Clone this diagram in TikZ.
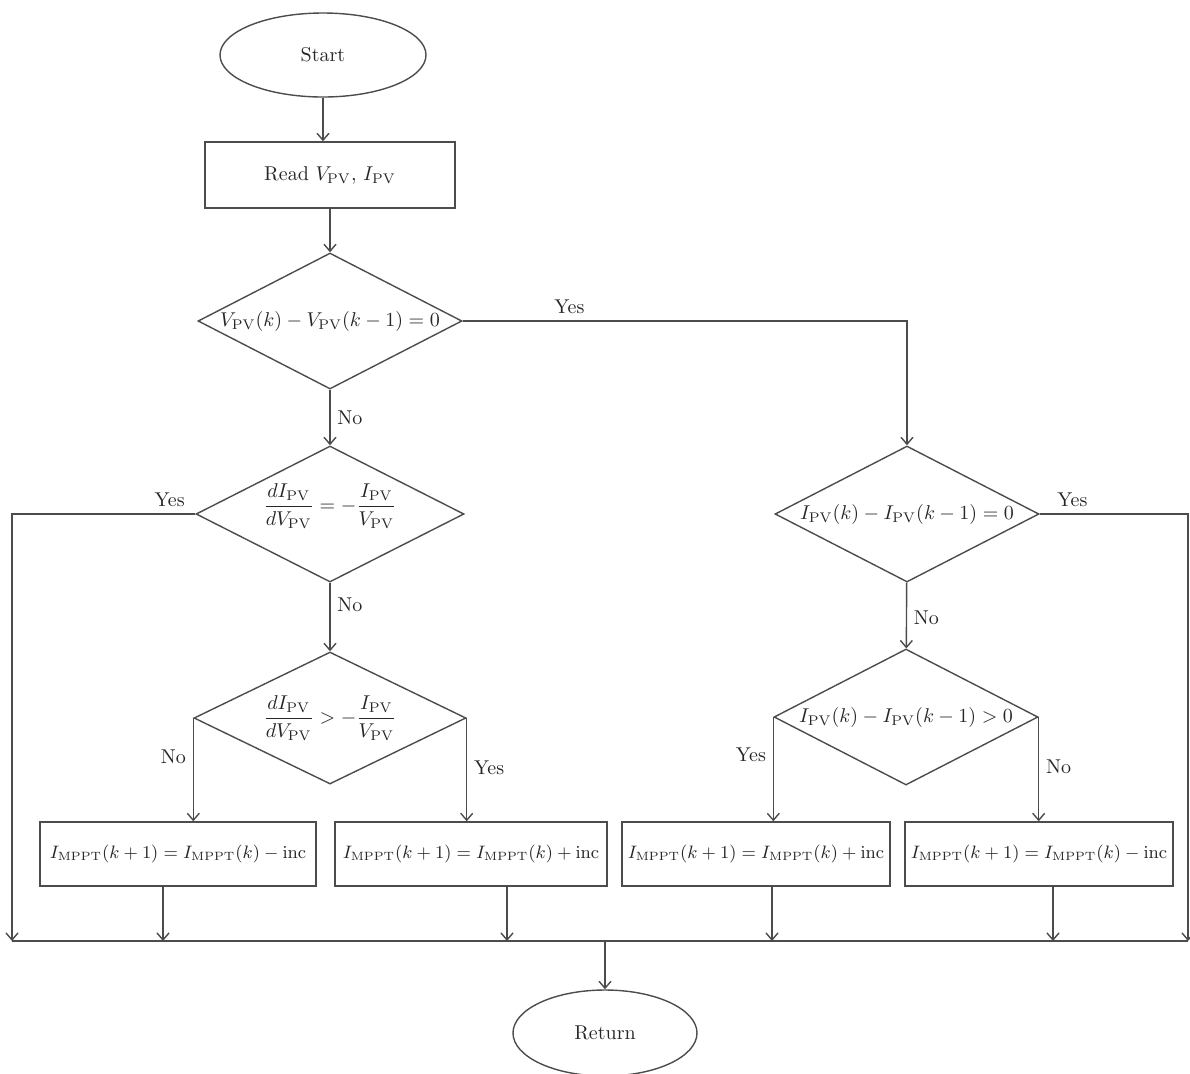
\documentclass[tikz,border=0pt]{standalone}
\usepackage{amsmath}
\usepackage{tikz}
\usetikzlibrary{shapes.geometric, positioning, arrows.meta}

\colorlet{linegray}{black!70}
\tikzset{
    terminal/.style={ellipse, draw=linegray, line width=0.7pt, minimum width=103pt, minimum height=42pt, inner sep=0pt},
    process/.style={rectangle, draw=linegray, line width=0.7pt, minimum width=130pt, minimum height=32pt, inner sep=2pt},
    update/.style={process, font=\fontsize{9.1pt}{11pt}\selectfont},
    decision/.style={diamond, draw=linegray, line width=0.7pt, minimum width=132pt, minimum height=68pt, inner sep=0pt},
    flow/.style={draw=linegray, line width=0.7pt, -{Straight Barb[length=3.5pt, width=6pt]}},
    line/.style={draw=linegray, line width=0.7pt},
}

\begin{document}
\begin{tikzpicture}[x=0.5pt, y=-0.5pt, text=black!85]
    \useasboundingbox (0,0) rectangle (1190,1073);

    % main column
    \node[terminal] (start) at (323,55) {Start};
    \node[process, minimum width=125pt, minimum height=33pt] (read) at (330,175) {Read $V_{\mathrm{PV}}$, $I_{\mathrm{PV}}$};
    \node[decision, label=center:{$V_{\mathrm{PV}}(k) - V_{\mathrm{PV}}(k-1) = 0$}] (d1) at (330,321) {};
    \node[decision, minimum width=134pt, label={[yshift=4pt]center:{$\dfrac{dI_{\mathrm{PV}}}{dV_{\mathrm{PV}}} = -\dfrac{I_{\mathrm{PV}}}{V_{\mathrm{PV}}}$}}] (d2) at (330,514) {};
    \node[decision, minimum width=136pt, minimum height=66pt, label=center:{$\dfrac{dI_{\mathrm{PV}}}{dV_{\mathrm{PV}}} > -\dfrac{I_{\mathrm{PV}}}{V_{\mathrm{PV}}}$}] (d4) at (330,718) {};

    % right column
    \node[decision, label=center:{$I_{\mathrm{PV}}(k) - I_{\mathrm{PV}}(k-1) = 0$}] (d3) at (907,514) {};
    \node[decision, label=center:{$I_{\mathrm{PV}}(k) - I_{\mathrm{PV}}(k-1) > 0$}] (d5) at (906,717) {};

    % updates
    \node[update, minimum width=138pt] (b1) at (178,854) {$I_{\mathrm{MPPT}}(k+1) = I_{\mathrm{MPPT}}(k) - \mathrm{inc}$};
    \node[update, minimum width=136pt] (b2) at (471,854) {$I_{\mathrm{MPPT}}(k+1) = I_{\mathrm{MPPT}}(k) + \mathrm{inc}$};
    \node[update, minimum width=134pt] (b3) at (756,854) {$I_{\mathrm{MPPT}}(k+1) = I_{\mathrm{MPPT}}(k) + \mathrm{inc}$};
    \node[update, minimum width=134pt] (b4) at (1039,854) {$I_{\mathrm{MPPT}}(k+1) = I_{\mathrm{MPPT}}(k) - \mathrm{inc}$};

    \node[terminal, minimum width=92pt, minimum height=43pt] (return) at (605,1033) {Return};

    % collecting line
    \coordinate (busL) at (12,941);
    \coordinate (busR) at (1188,941);
    \coordinate (busM) at (605,941);
    \coordinate (o1) at ([xshift=-7.5pt]b1.south);
    \coordinate (o2) at ([xshift=18pt]b2.south);
    \coordinate (o3) at ([xshift=8pt]b3.south);
    \coordinate (o4) at ([xshift=7pt]b4.south);

    \draw[flow] (start) -- (start |- read.north);
    \draw[flow] (read) -- (d1);
    \draw[flow] (d1.east) -| node[above, pos=0.12] {Yes} (d3.north);
    \draw[flow] (d1) -- node[right] {No} (d2);
    \draw[flow] (d2.west) -| node[above, pos=0.07] {Yes} (busL);
    \draw[flow] (d2) -- node[right, pos=0.32] {No} (d4);
    \draw[flow] (d4.west) -- node[left, pos=0.38] {No} (d4.west |- b1.north);
    \draw[flow] (d4.east) -- node[right, pos=0.48] {Yes} (d4.east |- b2.north);

    \draw[flow] (d3.east) -| node[above, pos=0.11] {Yes} (busR);
    \draw[flow] (d3) -- node[right, pos=0.53] {No} (d5);
    \draw[flow] (d5.west) -- node[left, pos=0.36] {Yes} (d5.west |- b3.north);
    \draw[flow] (d5.east) -- node[right, pos=0.48] {No} (d5.east |- b4.north);

    \draw[flow] (o1) -- (o1 |- busL);
    \draw[flow] (o2) -- (o2 |- busL);
    \draw[flow] (o3) -- (o3 |- busL);
    \draw[flow] (o4) -- (o4 |- busL);
    \draw[line] (busL) -- (busR);
    \draw[flow] (busM) -- (return);
\end{tikzpicture}
\end{document}
